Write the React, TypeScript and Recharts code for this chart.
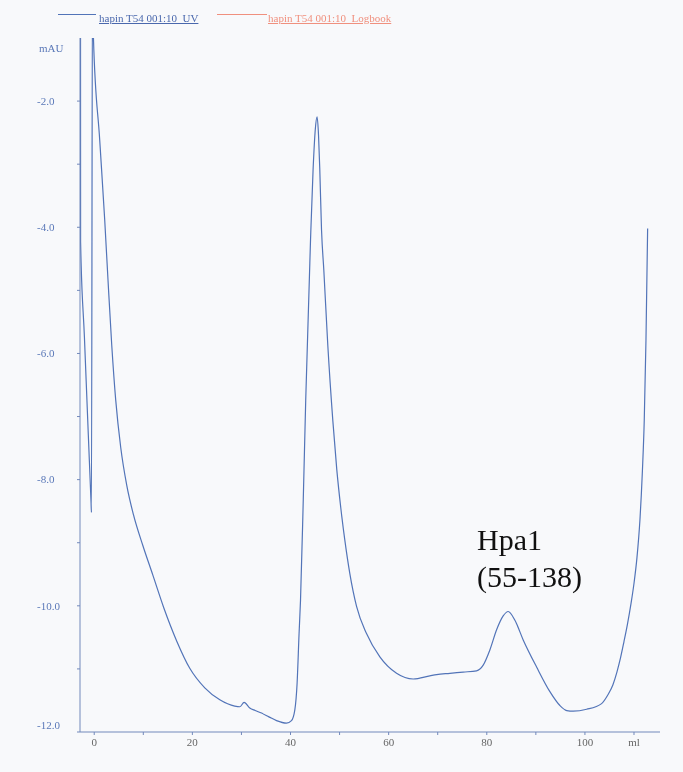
import React from 'react';
import { LineChart, Line, XAxis, YAxis } from 'recharts';

// Elution volume (ml) and UV absorbance (mAU)
const volumeMl = [
  -2.8, -2.78, -2.0, -1.2, -0.65, -0.57, -0.35, -0.16, 1.12, 2.14, 2.81, 3.57, 4.38, 5.4,
  6.63, 8.01, 9.89, 11.93, 14.17, 16.82, 19.47, 22.53, 25.59, 28.64, 29.7, 30.54, 31.7, 32.8,
  34.09, 35.6, 37.15, 39.18, 40.2, 40.88, 41.35, 41.75, 42.04, 42.6, 43.1, 44.08, 44.6, 45.05,
  45.42, 45.71, 45.97, 46.32, 46.79, 47.6, 48.62, 49.44, 50.25, 51.07, 52.09, 53.46, 55.49,
  58.21, 61.61, 65.0, 68.4, 69.77, 72.48, 75.19, 77.92, 79.27, 80.63, 82.0, 83.34, 84.36,
  85.73, 87.42, 90.15, 92.86, 94.9, 96.3, 97.61, 100.35, 103.4, 104.69, 105.71, 106.52,
  107.24, 107.95, 108.67, 109.38, 109.99, 110.6, 111.21, 111.72, 112.09, 112.44, 112.78,
];
const uvMau = [
  -0.3, -4.23, -5.74, -7.3, -8.36, -8.52, 0.2, -1.0, -2.62, -3.89, -4.84, -5.87, -6.74, -7.49,
  -8.09, -8.56, -9.04, -9.51, -10.03, -10.56, -10.99, -11.3, -11.49, -11.59, -11.6, -11.53, -11.62, -11.66,
  -11.7, -11.76, -11.82, -11.86, -11.82, -11.65, -11.22, -10.43, -9.91, -8.32, -6.74, -4.2, -3.09, -2.45,
  -2.25, -2.54, -3.09, -4.04, -4.68, -5.87, -7.06, -7.85, -8.45, -8.96, -9.49, -10.01, -10.44,
  -10.81, -11.07, -11.16, -11.11, -11.09, -11.07, -11.05, -11.03, -10.94, -10.7, -10.38, -10.16, -10.09,
  -10.23, -10.54, -10.97, -11.36, -11.58, -11.66, -11.67, -11.64, -11.55, -11.41, -11.25, -11.05,
  -10.83, -10.57, -10.29, -9.97, -9.65, -9.24, -8.64, -7.85, -7.06, -5.79, -4.02,
];

const xTicks = [0, 10, 20, 30, 40, 50, 60, 70, 80, 90, 100, 110];
const xTickLabels: Record<number, string> = { 0: '0', 20: '20', 40: '40', 60: '60', 80: '80', 100: '100', 110: 'ml' };
const yTicks = [-12, -11, -10, -9, -8, -7, -6, -5, -4, -3, -2];
const yTickLabels: Record<number, string> = { [-12]: '-12.0', [-10]: '-10.0', [-8]: '-8.0', [-6]: '-6.0', [-4]: '-4.0', [-2]: '-2.0' };
const yUnit = 'mAU';
const seriesNames = ['hapin T54 001:10_UV', 'hapin T54 001:10_Logbook'];
const annotationLines = ['Hpa1', '(55-138)'];

const data = volumeMl.map((ml, i) => ({ ml, uv: uvMau[i] }));

const FONT = '"Liberation Serif", "Times New Roman", serif';
const LINE_BLUE = '#5274b8';
const AXIS_COLOR = '#7289bb';
const TEXT_BLUE = '#5a78b8';
const RED = '#f0907e';

const YTick = (props: any) => {
  const { x, y, payload, index } = props;
  const label = yTickLabels[payload.value];
  if (!label) return <g />;
  // the bottom label sits slightly above the x-axis line
  const shift = index === 0 ? -7 : 0;
  return (
    <text x={x - 40} y={y + shift} dy="0.35em" textAnchor="start" fill={TEXT_BLUE} fontSize={11} fontFamily={FONT}>
      {label}
    </text>
  );
};

const XTick = (props: any) => {
  const { x, y, payload } = props;
  const label = xTickLabels[payload.value];
  if (!label) return <g />;
  return (
    <text x={x} y={y} dy="0.71em" textAnchor="middle" fill="#666" fontSize={11} fontFamily={FONT}>
      {label}
    </text>
  );
};

const UnitLabel = (props: any) => {
  const vb = props.viewBox || { x: 0, y: 0 };
  return (
    <text x={vb.x + 19} y={vb.y + 10} dy="0.35em" textAnchor="start" fill={TEXT_BLUE} fontSize={11} fontFamily={FONT}>
      {yUnit}
    </text>
  );
};

export default function App() {
  return (
    <div>
      <div style={{ position: 'fixed', inset: 0, background: '#f8f9fb', zIndex: -1 }} />
      <div style={{ position: 'relative', width: 667, height: 764 }}>
        <LineChart width={667} height={764} data={data} margin={{ top: 30, right: 15, bottom: 10, left: 12 }}>
          <XAxis
            type="number"
            dataKey="ml"
            domain={[-2.9, 115.3]}
            allowDataOverflow
            ticks={xTicks}
            tick={<XTick />}
            tickSize={3}
            tickMargin={3}
            height={30}
            stroke={AXIS_COLOR}
            interval={0}
          />
          <YAxis
            type="number"
            domain={[-12, -1]}
            allowDataOverflow
            ticks={yTicks}
            tick={<YTick />}
            tickSize={3}
            tickMargin={0}
            width={60}
            stroke={AXIS_COLOR}
            interval={0}
            label={<UnitLabel />}
          />
          <Line
            type="monotone"
            dataKey="uv"
            name={seriesNames[0]}
            stroke={LINE_BLUE}
            strokeWidth={1.2}
            dot={false}
            isAnimationActive={false}
          />
        </LineChart>
        <div style={{ position: 'absolute', left: 50, top: 6, width: 38, height: 1, background: LINE_BLUE }} />
        <div
          style={{
            position: 'absolute', left: 91, top: 3, fontFamily: FONT, fontSize: 11, color: '#4a68ad',
            textDecoration: 'underline', whiteSpace: 'nowrap', lineHeight: '14px',
          }}
        >
          {seriesNames[0]}
        </div>
        <div style={{ position: 'absolute', left: 209, top: 6, width: 50, height: 1, background: RED }} />
        <div
          style={{
            position: 'absolute', left: 260, top: 3, fontFamily: FONT, fontSize: 11, color: RED,
            textDecoration: 'underline', whiteSpace: 'nowrap', lineHeight: '14px',
          }}
        >
          {seriesNames[1]}
        </div>
        <div
          style={{
            position: 'absolute', left: 469, top: 513, fontFamily: FONT, fontSize: 30, lineHeight: '37px',
            color: '#111', whiteSpace: 'nowrap',
          }}
        >
          {annotationLines.map((t) => (
            <div key={t}>{t}</div>
          ))}
        </div>
      </div>
    </div>
  );
}
